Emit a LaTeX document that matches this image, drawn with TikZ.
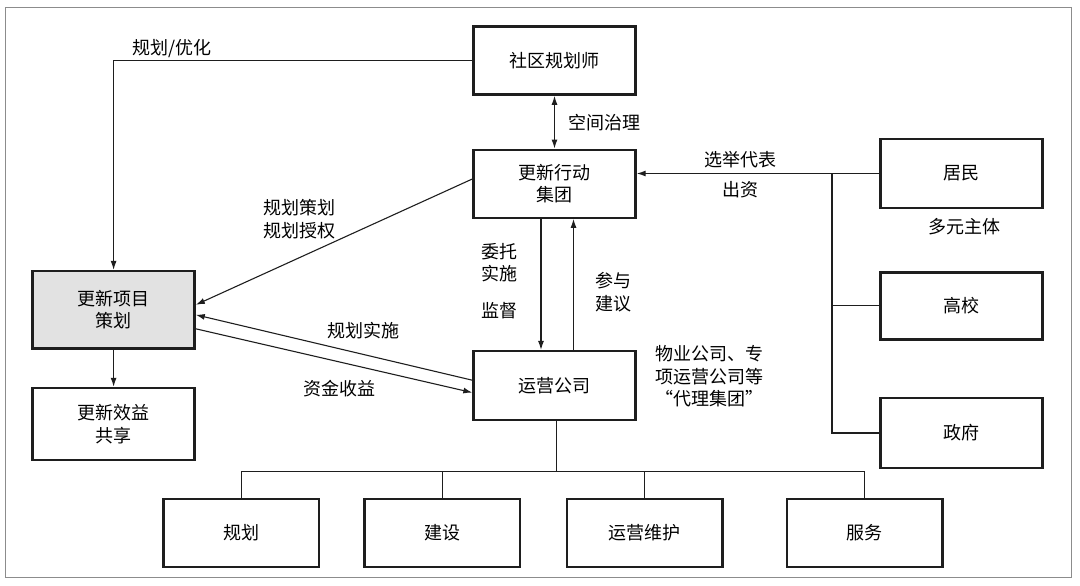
\documentclass[tikz,border=0pt]{standalone}
\usepackage{fontspec}
\setmainfont{Noto Sans CJK SC}
\usetikzlibrary{calc}
\usetikzlibrary{arrows.meta}
\definecolor{c1}{RGB}{30,30,30}
\definecolor{c2}{RGB}{226,226,226}
\definecolor{c3}{RGB}{140,140,140}

\begin{document}
\begin{tikzpicture}[x=1pt,y=-1pt,
    box/.style={draw=c1,line width=2.4pt,align=center,inner sep=0pt},
    txt/.style={align=center,inner sep=0pt},
    link/.style={draw=c1,line width=1.1pt},
    tip/.style={link,-{Latex[length=9pt,width=6pt]}},
    font=\fontsize{18}{22.5}\selectfont]
    \useasboundingbox (0,0) rectangle (1080,586);
    \draw[c3,line width=1pt] (5,7.6) rectangle (1071,577); %frame
    % upper middle
    \node[box,minimum width=162,minimum height=68] (sq) at (554.5,60.6) {社区规划师};
    \node[box,minimum width=162,minimum height=68] (xd) at (554.5,183.7) {更新行动\\集团};
    \node[box,minimum width=162,minimum height=69] (yy) at (554.5,385.6) {运营公司};
    % right column
    \node[box,minimum width=162,minimum height=69.5] (jm) at (961.5,173.5) {居民};
    \node[box,minimum width=162,minimum height=67] (gx) at (961.5,305.8) {高校};
    \node[box,minimum width=162,minimum height=70] (zf) at (961.5,433) {政府};
    % left column
    \node[box,fill=c2,minimum width=162,minimum height=77.5] (xm) at (113.6,309.8) {更新项目\\策划};
    \node[box,minimum width=162,minimum height=72] (xy) at (113.6,424) {更新效益\\共享};
    % bottom row
    \node[box,minimum width=155.6,minimum height=68.5] (gh) at (241.4,533) {规划};
    \node[box,minimum width=155.6,minimum height=68.5] (js) at (442.2,533) {建设};
    \node[box,minimum width=155.6,minimum height=68.5] (yw) at (644.7,533) {运营维护};
    \node[box,minimum width=155.6,minimum height=68.5] (fw) at (864.5,533) {服务};

    % connectors
    \draw[tip] (sq.west) -| (xm.north);
    \draw[link,{Latex[length=9pt,width=6pt]}-{Latex[length=9pt,width=6pt]}] (sq.south) -- (xd.north);
    \draw[tip] (jm.west) -- (jm.west -| xd.east);
    \coordinate (br) at (832,173.5);
    \draw[link] (br) |- (gx.west);
    \draw[link] (br) |- (zf.west);
    \draw[tip] ([yshift=4.7pt]xd.west) -- ([yshift=5pt]xm.east);
    \draw[tip] ([xshift=-13.5pt]xd.south) -- ([xshift=-13.5pt]yy.north);
    \draw[tip] ([xshift=19pt]yy.north) -- ([xshift=19pt]xd.south);
    \draw[tip] ([yshift=5.4pt]yy.west) -- ([yshift=-5pt]xm.east);
    \draw[tip] ([yshift=-19pt]xm.east) -- ([yshift=-7pt]yy.west);
    \draw[tip] (xm.south) -- (xy.north);
    % bottom tree
    \coordinate (bus) at (556.5,471.8);
    \draw[link] (yy.south -| bus) -- (bus);
    \draw[link] (gh.north) -- (gh.north |- bus) -- (fw.north |- bus) -- (fw.north);
    \draw[link] (js.north) -- (js.north |- bus);
    \draw[link] (yw.north) -- (yw.north |- bus);

    % labels
    \node[txt] (l1) at (172,49) {规划/优化};
    \node[txt] (l2) at (604.7,123) {空间治理};
    \node[txt] (l3) at (740.4,160) {选举代表};
    \node[txt] (l4) at (740.4,190) {出资};
    \node[txt] (l5) at (964.6,227) {多元主体};
    \node[txt] (l6) at (299,219) {规划策划\\规划授权};
    \node[txt] (l7) at (499,262.5) {委托\\实施};
    \node[txt] (l8) at (499,310.7) {监督};
    \node[txt] (l9) at (613,292) {参与\\建议};
    \node[txt] (l10) at (363,330.3) {规划实施};
    \node[txt] (l11) at (339,389) {资金收益};
    \node[txt] (l12) at (709.8,376.5) {物业公司、专\\项运营公司等\\“代理集团”};
\end{tikzpicture}
\end{document}
